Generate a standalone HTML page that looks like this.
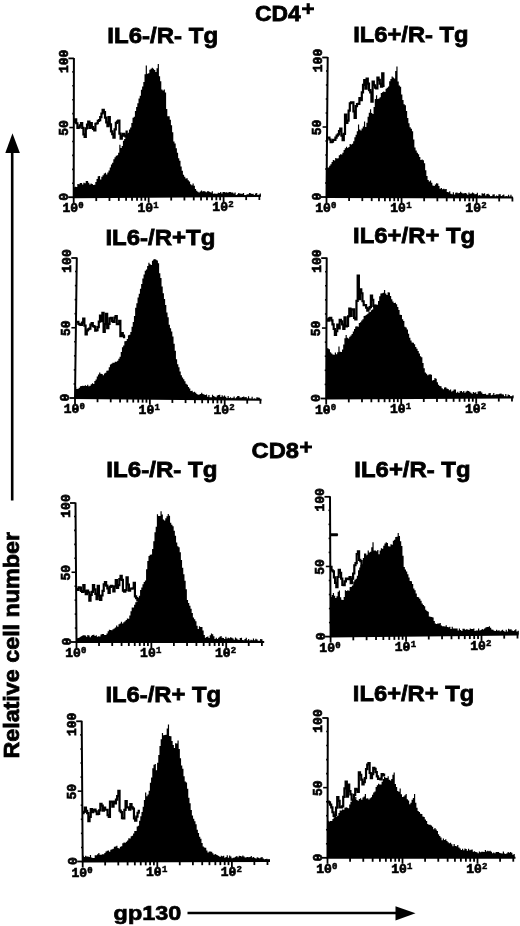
<!DOCTYPE html>
<html><head><meta charset="utf-8"><style>
html,body{margin:0;padding:0;background:#fff;}
svg{display:block;}
.t{font-family:"Liberation Sans",sans-serif;font-weight:bold;font-size:22.8px;fill:#000;stroke:#000;stroke-width:0.8px;}
.g{font-family:"Liberation Sans",sans-serif;font-weight:bold;font-size:21px;fill:#000;stroke:#000;stroke-width:0.7px;}
.p{font-family:"Liberation Sans",sans-serif;font-weight:bold;font-size:21px;fill:#000;}
.m{font-family:"Liberation Mono",monospace;font-weight:bold;font-size:13px;fill:#000;stroke:#000;stroke-width:0.7px;}
.s{font-family:"Liberation Mono",monospace;font-weight:bold;font-size:9px;fill:#000;stroke:#000;stroke-width:0.5px;}
</style></head><body>
<svg width="520" height="926" viewBox="0 0 520 926">
<defs><filter id="b" x="0" y="0" width="520" height="926" filterUnits="userSpaceOnUse"><feGaussianBlur stdDeviation="0.4"/></filter></defs>
<rect width="520" height="926" fill="#fff"/>
<g filter="url(#b)">
<path d="M73.71 187.31H74.91V186.71H76.11V186.91H77.31V184.09H78.51V184.19H79.71V183.03H80.91V182.95H82.11V184.58H83.31V182.84H84.51V183.2H85.71V180.98H86.91V180.88H88.11V182.65H89.31V184.58H90.51V183.39H91.71V183.93H92.91V185.06H94.11V184.72H95.31V182.07H96.51V178.93H97.71V176.2H98.91V176H100.11V179.42H101.31V176.8H102.51V175.19H103.71V173.55H104.91V172.7H106.11V174.48H107.31V172.44H108.51V170.38H109.71V167.56H110.91V164.42H112.11V162.63H113.31V159.24H114.51V157.22H115.71V155.65H116.91V155.18H118.11V152.85H119.31V144.7H120.51V147.92H121.71V145.91H122.91V140.69H124.11V139.1H125.31V136.43H126.51V133.42H127.71V132.72H128.91V129.59H130.11V127.47H131.31V123.11H132.51V117.87H133.71V116.63H134.91V110.88H136.11V106.92H137.31V103.34H138.51V98.42H139.71V95.72H140.91V89.66H142.11V86.6H143.31V82.02H144.51V74.25H145.71V65.5H146.91V73.81H148.11V73.31H149.31V69.8H150.51V68.8H151.71V67.68H152.91V68.75H154.11V69.95H155.31V72.08H156.51V68.13H157.71V63.9H158.91V76.17H160.11V81.21H161.31V89.54H162.51V90.55H163.71V89.47H164.91V92.42H166.11V109H167.31V116.3H168.51V116.14H169.71V119.64H170.91V125.22H172.11V132.21H173.31V141.51H174.51V143.4H175.71V148.24H176.91V152.73H178.11V158.22H179.31V160.87H180.51V166.55H181.71V170.74H182.91V174.74H184.11V176.79H185.31V178.41H186.51V178.3H187.71V180.3H188.91V181.62H190.11V184.29H191.31V185.36H192.51V183.52H193.71V185.67H194.91V189H196.11V190.73H197.31V191.85H198.51V192.47H199.71V191.6H200.91V190.57H202.11V191.42H203.31V191.06H204.51V191.4H205.71V192.28H206.91V191.34H208.11V191.27H209.31V191.97H210.51V192.55H211.71V191.17H212.91V193.67H214.11V193.46H215.31V193.84H216.51V193.75H217.71V192.74H218.91V192.89H220.11V192.09H221.31V193.58H222.51V191.97H223.71V191.99H224.91V192.38H226.11V192.25H227.31V192.79H228.51V192.11H229.71V192.08H230.91V192.62H232.11V192.6H233.31V193.45H234.51V192.62H235.71V195.06H236.91V194.36H238.11V193.08H239.31V193.39H240.51V193.68H241.71V193.75H242.91V193.1H244.11V195.16H245.31V195.59H246.51V194.14H247.71V194.21H248.91V193.12H250.11V193.19H251.31V193.89H252.51V193.69H253.71V195.3H254.91V193.45H256.11V193.09H257.31V195.71H258.51V194.55H259.71V193.5H260.91V196L73.71 197.2Z" fill="#000"/>
<path d="M73.81 121.82H75.01V119.36H76.21V123.25H77.41V127.91H78.61V127.31H79.81V125.3H81.01V123.09H82.21V127.91H83.41V134.38H84.61V137H85.81V128.41H87.01V124.69H88.21V121.6H89.41V127.83H90.61V123.2H91.81V127.03H93.01V128.89H94.21V130.51H95.41V123.77H96.61V123.23H97.81V120.96H99.01V120.18H100.21V117.04H101.41V113.5H102.61V109.77H103.81V112.15H105.01V117.68H106.21V122.41H107.41V126.26H108.61V117H109.81V124.37H111.01V131.33H112.21V134.06H113.41V137.53H114.61V129.32H115.81V122.8H117.01V121.7H118.21V120.48H119.41V133.63H120.61V138.62H121.81V135.67H123.01V133.79H124.21V135.7H125.41V136.45H126.61V131.53H127.81" fill="none" stroke="#000" stroke-width="2.2" stroke-linejoin="miter"/>
<path d="M73.9 57.9L73.7 197.2L260.8 196" fill="none" stroke="#000" stroke-width="2"/>
<path d="M68.4 58.4H73.9" stroke="#000" stroke-width="1.8"/>
<path d="M72.12 183.27H73.72" stroke="#000" stroke-width="1.6"/>
<path d="M72.14 169.34H73.74" stroke="#000" stroke-width="1.6"/>
<path d="M72.16 155.41H73.76" stroke="#000" stroke-width="1.6"/>
<path d="M72.18 141.48H73.78" stroke="#000" stroke-width="1.6"/>
<path d="M69.3 127.55H73.8" stroke="#000" stroke-width="1.6"/>
<path d="M72.22 113.62H73.82" stroke="#000" stroke-width="1.6"/>
<path d="M72.24 99.69H73.84" stroke="#000" stroke-width="1.6"/>
<path d="M72.26 85.76H73.86" stroke="#000" stroke-width="1.6"/>
<path d="M72.28 71.83H73.88" stroke="#000" stroke-width="1.6"/>
<path d="M68.2 197.2H73.7" stroke="#000" stroke-width="1.8"/>
<path d="M73.7 197.2V203.2" stroke="#000" stroke-width="1.8"/>
<path d="M96.26 197.06V201.06" stroke="#000" stroke-width="1.8"/>
<path d="M109.46 196.97V200.97" stroke="#000" stroke-width="1.8"/>
<path d="M118.82 196.91V200.91" stroke="#000" stroke-width="1.8"/>
<path d="M126.09 196.86V200.86" stroke="#000" stroke-width="1.8"/>
<path d="M132.02 196.83V200.83" stroke="#000" stroke-width="1.8"/>
<path d="M137.04 196.79V200.79" stroke="#000" stroke-width="1.8"/>
<path d="M141.39 196.77V200.77" stroke="#000" stroke-width="1.8"/>
<path d="M145.22 196.74V200.74" stroke="#000" stroke-width="1.8"/>
<path d="M148.65 196.72V202.72" stroke="#000" stroke-width="1.8"/>
<path d="M171.21 196.57V200.57" stroke="#000" stroke-width="1.8"/>
<path d="M184.41 196.49V200.49" stroke="#000" stroke-width="1.8"/>
<path d="M193.77 196.43V200.43" stroke="#000" stroke-width="1.8"/>
<path d="M201.04 196.38V200.38" stroke="#000" stroke-width="1.8"/>
<path d="M206.97 196.35V200.35" stroke="#000" stroke-width="1.8"/>
<path d="M211.99 196.31V200.31" stroke="#000" stroke-width="1.8"/>
<path d="M216.34 196.29V200.29" stroke="#000" stroke-width="1.8"/>
<path d="M220.17 196.26V200.26" stroke="#000" stroke-width="1.8"/>
<path d="M223.6 196.24V202.24" stroke="#000" stroke-width="1.8"/>
<path d="M246.16 196.09V200.09" stroke="#000" stroke-width="1.8"/>
<path d="M259.36 196.01V200.01" stroke="#000" stroke-width="1.8"/>
<text transform="translate(67.9 61.4) rotate(-90)" x="0" y="0" text-anchor="middle" class="m">100</text>
<text transform="translate(67.8 128.05) rotate(-90)" x="0" y="0" text-anchor="middle" class="m">50</text>
<text transform="translate(67.7 196.9) rotate(-90)" x="0" y="0" text-anchor="middle" class="m">0</text>
<text x="70.25" y="212.2" text-anchor="middle" class="m">10</text>
<text x="78.3" y="208.2" class="s">0</text>
<text x="145.2" y="211.72" text-anchor="middle" class="m">10</text>
<text x="153.25" y="207.72" class="s">1</text>
<text x="220.15" y="211.24" text-anchor="middle" class="m">10</text>
<text x="228.2" y="207.24" class="s">2</text>
<path d="M326.76 167.45H327.96V167.62H329.16V165.84H330.36V164.13H331.56V162.08H332.76V160.04H333.96V160.55H335.16V158.07H336.36V158.54H337.56V158.16H338.76V155.35H339.96V154.18H341.16V154.58H342.36V152.77H343.56V150.02H344.76V148.33H345.96V146.78H347.16V148.08H348.36V147H349.56V143.9H350.76V144.56H351.96V143.79H353.16V141.26H354.36V137.22H355.56V134.84H356.76V131.35H357.96V124.6H359.16V129.46H360.36V130.5H361.56V128.6H362.76V126.61H363.96V121.5H365.16V127.11H366.36V122.63H367.56V116.87H368.76V112.82H369.96V109.15H371.16V113.05H372.36V113.88H373.56V107.05H374.76V99.12H375.96V95.28H377.16V99.12H378.36V98.47H379.56V97.22H380.76V93.11H381.96V92.28H383.16V91.53H384.36V92.11H385.56V88.87H386.76V87.83H387.96V86.61H389.16V81.31H390.36V78.91H391.56V76.39H392.76V77.62H393.96V78.62H395.16V70.94H396.36V66.5H397.56V81.46H398.76V85.45H399.96V86.65H401.16V94.43H402.36V99.92H403.56V104.34H404.76V105.2H405.96V111.04H407.16V117.99H408.36V123.33H409.56V127.15H410.76V128.74H411.96V131.29H413.16V139.61H414.36V147.48H415.56V150.38H416.76V152.7H417.96V154.14H419.16V156.95H420.36V160.04H421.56V159.4H422.76V160.22H423.96V163.32H425.16V170.14H426.36V175.94H427.56V180.12H428.76V181.47H429.96V180.4H431.16V182.83H432.36V185.48H433.56V185.97H434.76V184.53H435.96V183.28H437.16V183.4H438.36V186.07H439.56V188.69H440.76V187.95H441.96V189.35H443.16V188.68H444.36V189.22H445.56V189.09H446.76V191.93H447.96V192.24H449.16V191.27H450.36V193.73H451.56V194.18H452.76V192.29H453.96V194.56H455.16V192.83H456.36V192.46H457.56V193.25H458.76V193.1H459.96V191.64H461.16V192.81H462.36V193.45H463.56V193.17H464.76V192.98H465.96V193.53H467.16V194.77H468.36V192.57H469.56V193.84H470.76V193.49H471.96V192.39H473.16V193.35H474.36V194.25H475.56V194.02H476.76V192.85H477.96V195.52H479.16V195.05H480.36V195.65H481.56V193.3H482.76V193.84H483.96V193.29H485.16V195.44H486.36V194.1H487.56V193.79H488.76V194.7H489.96V196.15H491.16V195.94H492.36V194.43H493.56V194.18H494.76V196.39H495.96V195.46H497.16V195.88H498.36V194.22H499.56V194.19H500.76V196.01H501.96V195.32H503.16V194.39H504.36V196.87H505.56V196.07H506.76V196.59H507.96V194.63H509.16V196.85H510.36V194.69H511.56V196.97H512.76V197.5L326.76 197Z" fill="#000"/>
<path d="M327.01 137.76H328.21V137.62H329.41V139.5H330.61V142.23H331.81V141.66H333.01V139.83H334.21V139.81H335.41V137.53H336.61V135.65H337.81V134.31H339.01V131.16H340.21V128.71H341.41V135.57H342.61V140.08H343.81V133.8H345.01V114.6H346.21V122.83H347.41V120.55H348.61V110.57H349.81V103.23H351.01V102.45H352.21V102.24H353.41V111.3H354.61V117.9H355.81V106.18H357.01V104.01H358.21V103.95H359.41V98.01H360.61V100.13H361.81V92.34H363.01V84.97H364.21V80H365.41V88.66H366.61V78.5H367.81V83.57H369.01V90.03H370.21V92.31H371.41V101.66H372.61V81.5H373.81V85.26H375.01V87.72H376.21V88.42H377.41V77.61H378.61V79.97H379.81V83.74H381.01V86.75H382.21V73.39H383.41V85.87H384.61" fill="none" stroke="#000" stroke-width="2.2" stroke-linejoin="miter"/>
<path d="M327.7 57L326.5 197L513 197.5" fill="none" stroke="#000" stroke-width="2"/>
<path d="M322.2 57.5H327.7" stroke="#000" stroke-width="1.8"/>
<path d="M325.02 183H326.62" stroke="#000" stroke-width="1.6"/>
<path d="M325.14 169H326.74" stroke="#000" stroke-width="1.6"/>
<path d="M325.26 155H326.86" stroke="#000" stroke-width="1.6"/>
<path d="M325.38 141H326.98" stroke="#000" stroke-width="1.6"/>
<path d="M322.6 127H327.1" stroke="#000" stroke-width="1.6"/>
<path d="M325.62 113H327.22" stroke="#000" stroke-width="1.6"/>
<path d="M325.74 99H327.34" stroke="#000" stroke-width="1.6"/>
<path d="M325.86 85H327.46" stroke="#000" stroke-width="1.6"/>
<path d="M325.98 71H327.58" stroke="#000" stroke-width="1.6"/>
<path d="M321 197H326.5" stroke="#000" stroke-width="1.8"/>
<path d="M326.5 197V203" stroke="#000" stroke-width="1.8"/>
<path d="M349.09 197.06V201.06" stroke="#000" stroke-width="1.8"/>
<path d="M362.31 197.1V201.1" stroke="#000" stroke-width="1.8"/>
<path d="M371.68 197.12V201.12" stroke="#000" stroke-width="1.8"/>
<path d="M378.96 197.14V201.14" stroke="#000" stroke-width="1.8"/>
<path d="M384.9 197.16V201.16" stroke="#000" stroke-width="1.8"/>
<path d="M389.92 197.17V201.17" stroke="#000" stroke-width="1.8"/>
<path d="M394.28 197.18V201.18" stroke="#000" stroke-width="1.8"/>
<path d="M398.12 197.19V201.19" stroke="#000" stroke-width="1.8"/>
<path d="M401.55 197.2V203.2" stroke="#000" stroke-width="1.8"/>
<path d="M424.14 197.26V201.26" stroke="#000" stroke-width="1.8"/>
<path d="M437.36 197.3V201.3" stroke="#000" stroke-width="1.8"/>
<path d="M446.73 197.32V201.32" stroke="#000" stroke-width="1.8"/>
<path d="M454.01 197.34V201.34" stroke="#000" stroke-width="1.8"/>
<path d="M459.95 197.36V201.36" stroke="#000" stroke-width="1.8"/>
<path d="M464.97 197.37V201.37" stroke="#000" stroke-width="1.8"/>
<path d="M469.33 197.38V201.38" stroke="#000" stroke-width="1.8"/>
<path d="M473.17 197.39V201.39" stroke="#000" stroke-width="1.8"/>
<path d="M476.6 197.4V203.4" stroke="#000" stroke-width="1.8"/>
<path d="M499.19 197.46V201.46" stroke="#000" stroke-width="1.8"/>
<path d="M512.41 197.5V201.5" stroke="#000" stroke-width="1.8"/>
<text transform="translate(321.7 60.5) rotate(-90)" x="0" y="0" text-anchor="middle" class="m">100</text>
<text transform="translate(321.1 127.5) rotate(-90)" x="0" y="0" text-anchor="middle" class="m">50</text>
<text transform="translate(320.5 196.7) rotate(-90)" x="0" y="0" text-anchor="middle" class="m">0</text>
<text x="323.05" y="212" text-anchor="middle" class="m">10</text>
<text x="331.1" y="208" class="s">0</text>
<text x="398.1" y="212.2" text-anchor="middle" class="m">10</text>
<text x="406.15" y="208.2" class="s">1</text>
<text x="473.15" y="212.4" text-anchor="middle" class="m">10</text>
<text x="481.2" y="208.4" class="s">2</text>
<path d="M75.13 386.84H76.33V388.95H77.53V388.67H78.73V387.74H79.93V386.3H81.13V385.88H82.33V385.72H83.53V386.09H84.73V385.24H85.93V385.98H87.13V384.87H88.33V386.23H89.53V385.84H90.73V384.33H91.93V383.16H93.13V383.98H94.33V380.89H95.53V379.41H96.73V376.5H97.93V374.38H99.13V372.4H100.33V373.87H101.53V373.98H102.73V375.24H103.93V373.54H105.13V372.65H106.33V370.72H107.53V370.39H108.73V367.34H109.93V364.47H111.13V363.68H112.33V362.69H113.53V362.86H114.73V361.87H115.93V361.7H117.13V360.65H118.33V358.65H119.53V356.71H120.73V351.88H121.93V347.35H123.13V345.4H124.33V341.23H125.53V341.12H126.73V338.93H127.93V335.21H129.13V334.72H130.33V332.07H131.53V326.64H132.73V322.1H133.93V315.91H135.13V307.69H136.33V303.13H137.53V297.6H138.73V293.73H139.93V288.84H141.13V284.1H142.33V278.6H143.53V274.62H144.73V270.78H145.93V269.61H147.13V265.94H148.33V262.82H149.53V264.3H150.73V264.92H151.93V260.84H153.13V259.45H154.33V259.09H155.53V259.74H156.73V260.52H157.93V263.3H159.13V273.24H160.33V277.94H161.53V286.56H162.73V293.19H163.93V299.12H165.13V304.99H166.33V312.4H167.53V317.31H168.73V324.79H169.93V328.31H171.13V331.57H172.33V336.45H173.53V343.8H174.73V350.72H175.93V359.19H177.13V364.28H178.33V367.24H179.53V371.44H180.73V375.23H181.93V377.49H183.13V379.3H184.33V381.34H185.53V383.86H186.73V384.67H187.93V387.04H189.13V388.54H190.33V391.02H191.53V390.69H192.73V392.31H193.93V391.65H195.13V392.67H196.33V394.01H197.53V394.75H198.73V394.41H199.93V393.98H201.13V392.78H202.33V394.01H203.53V394.47H204.73V395.07H205.93V394.49H207.13V396.8H208.33V394.99H209.53V397.31H210.73V397.33H211.93V394.81H213.13V395.94H214.33V396.84H215.53V397.14H216.73V395.58H217.93V394.97H219.13V394.69H220.33V396.97H221.53V395.14H222.73V396.42H223.93V395.42H225.13V396.72H226.33V398.16H227.53V396H228.73V397.97H229.93V397.14H231.13V398.24H232.33V397.78H233.53V396.5H234.73V398.41H235.93V397.31H237.13V396.06H238.33V396.05H239.53V397.46H240.73V397.38H241.93V396.99H243.13V396.57H244.33V397.17H245.53V397.12H246.73V398.62H247.93V396.3H249.13V398.43H250.33V398.71H251.53V396.72H252.73V399.01H253.93V398.44H255.13V399H256.33V397.32H257.53V397.58H258.73V397.67H259.93V399.39H261.13V399.8L75.13 398Z" fill="#000"/>
<path d="M75.98 322.06H77.18V321.97H78.38V323.8H79.58V324.54H80.78V324.91H81.98V322.58H83.18V318.5H84.38V325.53H85.58V334.46H86.78V330.48H87.98V329.26H89.18V328.55H90.38V324.63H91.58V323.18H92.78V326.15H93.98V326.55H95.18V330.54H96.38V330.2H97.58V327.05H98.78V321.61H99.98V315.5H101.18V321.18H102.38V312.88H103.58V332.02H104.78V324.06H105.98V313.9H107.18V328.18H108.38V323.84H109.58V318.44H110.78V317.8H111.98V321.18H113.18V321.78H114.38V317.62H115.58V316.2H116.78V324.15H117.98V324.13H119.18V320.8H120.38V336.12H121.58V333.21H122.78V335.56H123.98V337.22H125.18" fill="none" stroke="#000" stroke-width="2.2" stroke-linejoin="miter"/>
<path d="M76.8 257.5L75 398L261.5 399.8" fill="none" stroke="#000" stroke-width="2"/>
<path d="M71.3 258H76.8" stroke="#000" stroke-width="1.8"/>
<path d="M73.58 383.95H75.18" stroke="#000" stroke-width="1.6"/>
<path d="M73.76 369.9H75.36" stroke="#000" stroke-width="1.6"/>
<path d="M73.94 355.85H75.54" stroke="#000" stroke-width="1.6"/>
<path d="M74.12 341.8H75.72" stroke="#000" stroke-width="1.6"/>
<path d="M71.4 327.75H75.9" stroke="#000" stroke-width="1.6"/>
<path d="M74.48 313.7H76.08" stroke="#000" stroke-width="1.6"/>
<path d="M74.66 299.65H76.26" stroke="#000" stroke-width="1.6"/>
<path d="M74.84 285.6H76.44" stroke="#000" stroke-width="1.6"/>
<path d="M75.02 271.55H76.62" stroke="#000" stroke-width="1.6"/>
<path d="M69.5 398H75" stroke="#000" stroke-width="1.8"/>
<path d="M75 398V404" stroke="#000" stroke-width="1.8"/>
<path d="M97.53 398.22V402.22" stroke="#000" stroke-width="1.8"/>
<path d="M110.71 398.34V402.34" stroke="#000" stroke-width="1.8"/>
<path d="M120.06 398.43V402.43" stroke="#000" stroke-width="1.8"/>
<path d="M127.32 398.5V402.5" stroke="#000" stroke-width="1.8"/>
<path d="M133.24 398.56V402.56" stroke="#000" stroke-width="1.8"/>
<path d="M138.26 398.61V402.61" stroke="#000" stroke-width="1.8"/>
<path d="M142.6 398.65V402.65" stroke="#000" stroke-width="1.8"/>
<path d="M146.43 398.69V402.69" stroke="#000" stroke-width="1.8"/>
<path d="M149.85 398.72V404.72" stroke="#000" stroke-width="1.8"/>
<path d="M172.38 398.94V402.94" stroke="#000" stroke-width="1.8"/>
<path d="M185.56 399.07V403.07" stroke="#000" stroke-width="1.8"/>
<path d="M194.91 399.16V403.16" stroke="#000" stroke-width="1.8"/>
<path d="M202.17 399.23V403.23" stroke="#000" stroke-width="1.8"/>
<path d="M208.09 399.28V403.28" stroke="#000" stroke-width="1.8"/>
<path d="M213.11 399.33V403.33" stroke="#000" stroke-width="1.8"/>
<path d="M217.45 399.37V403.37" stroke="#000" stroke-width="1.8"/>
<path d="M221.28 399.41V403.41" stroke="#000" stroke-width="1.8"/>
<path d="M224.7 399.44V405.44" stroke="#000" stroke-width="1.8"/>
<path d="M247.23 399.66V403.66" stroke="#000" stroke-width="1.8"/>
<path d="M260.41 399.79V403.79" stroke="#000" stroke-width="1.8"/>
<text transform="translate(70.8 261) rotate(-90)" x="0" y="0" text-anchor="middle" class="m">100</text>
<text transform="translate(69.9 328.25) rotate(-90)" x="0" y="0" text-anchor="middle" class="m">50</text>
<text transform="translate(69 397.7) rotate(-90)" x="0" y="0" text-anchor="middle" class="m">0</text>
<text x="71.55" y="413" text-anchor="middle" class="m">10</text>
<text x="79.6" y="409" class="s">0</text>
<text x="146.4" y="413.72" text-anchor="middle" class="m">10</text>
<text x="154.45" y="409.72" class="s">1</text>
<text x="221.25" y="414.44" text-anchor="middle" class="m">10</text>
<text x="229.3" y="410.44" class="s">2</text>
<path d="M326.38 348.07H327.58V348.42H328.78V349.32H329.98V352.28H331.18V353.49H332.38V354.48H333.58V354.78H334.78V352.4H335.98V354.25H337.18V352.36H338.38V346.49H339.58V351.72H340.78V352.03H341.98V349.58H343.18V344.49H344.38V338.18H345.58V335H346.78V337.74H347.98V338.55H349.18V336.72H350.38V335.42H351.58V333.98H352.78V331.48H353.98V328.92H355.18V326.54H356.38V326.21H357.58V326.87H358.78V323.05H359.98V322.19H361.18V320.45H362.38V319.36H363.58V315.88H364.78V315.39H365.98V314.81H367.18V313.63H368.38V312.15H369.58V311.95H370.78V310.16H371.98V309.45H373.18V306.09H374.38V304.5H375.58V305.04H376.78V304.78H377.98V301.04H379.18V296.37H380.38V293.52H381.58V293.31H382.78V292.82H383.98V290.1H385.18V293.53H386.38V294.98H387.58V292.17H388.78V292.57H389.98V295.88H391.18V299.34H392.38V301.4H393.58V303.07H394.78V302.87H395.98V304.36H397.18V307.09H398.38V310.12H399.58V314.82H400.78V315.07H401.98V319.16H403.18V321.08H404.38V326.69H405.58V327.58H406.78V329.59H407.98V333.7H409.18V337.73H410.38V340.57H411.58V342.6H412.78V342.73H413.98V344.18H415.18V347.04H416.38V348.83H417.58V350.93H418.78V353.5H419.98V356.17H421.18V357.18H422.38V362.95H423.58V368.28H424.78V372.46H425.98V373.87H427.18V375.23H428.38V374.41H429.58V374.15H430.78V374.78H431.98V380.4H433.18V380.06H434.38V378.12H435.58V378.82H436.78V382.18H437.98V384.67H439.18V385.94H440.38V386.34H441.58V388.29H442.78V389.28H443.98V387.59H445.18V387.34H446.38V388.5H447.58V389.05H448.78V390.33H449.98V389.56H451.18V391.44H452.38V390.68H453.58V389.43H454.78V389.45H455.98V392.79H457.18V391.82H458.38V393.04H459.58V391.18H460.78V390.95H461.98V392.33H463.18V391.03H464.38V392.87H465.58V391.59H466.78V390.72H467.98V390.9H469.18V391.75H470.38V392.76H471.58V393.87H472.78V391.94H473.98V392.87H475.18V392.16H476.38V394.09H477.58V391.55H478.78V391.18H479.98V391.36H481.18V392.44H482.38V394.01H483.58V394.12H484.78V393.85H485.98V394.74H487.18V394.71H488.38V393.18H489.58V392.93H490.78V395.18H491.98V394.8H493.18V392.96H494.38V394.88H495.58V394.19H496.78V394.25H497.98V394.2H499.18V393.81H500.38V393.42H501.58V394.26H502.78V394.53H503.98V396.29H505.18V394.03H506.38V396.45H507.58V394.4H508.78V394.89H509.98V396.26H511.18V396.33H512.38V395.3H513.58V397.5L326.38 398.5Z" fill="#000"/>
<path d="M326.47 319.26H327.67V320.55H328.87V318.4H330.07V317.8H331.27V320.44H332.47V324.41H333.67V329.02H334.87V334.8H336.07V331.23H337.27V324.7H338.47V328.47H339.67V319.74H340.87V321.26H342.07V324.49H343.27V328.97H344.47V317.42H345.67V326.43H346.87V325.93H348.07V316.36H349.27V308.65H350.47V315.89H351.67V309.3H352.87V309.45H354.07V317.81H355.27V319.51H356.47V300.85H357.67V275.49H358.87V299.11H360.07V289.3H361.27V293.23H362.47V301.27H363.67V305.13H364.87V305.17H366.07V307.76H367.27V310.7H368.47V308.74H369.67V307.07H370.87V295.5H372.07V299.94H373.27V305.82H374.47V306.95H375.67V305.48H376.87" fill="none" stroke="#000" stroke-width="2.2" stroke-linejoin="miter"/>
<path d="M326.7 257.6L326.2 398.5L513.5 397.5" fill="none" stroke="#000" stroke-width="2"/>
<path d="M321.2 258.1H326.7" stroke="#000" stroke-width="1.8"/>
<path d="M324.65 384.41H326.25" stroke="#000" stroke-width="1.6"/>
<path d="M324.7 370.32H326.3" stroke="#000" stroke-width="1.6"/>
<path d="M324.75 356.23H326.35" stroke="#000" stroke-width="1.6"/>
<path d="M324.8 342.14H326.4" stroke="#000" stroke-width="1.6"/>
<path d="M321.95 328.05H326.45" stroke="#000" stroke-width="1.6"/>
<path d="M324.9 313.96H326.5" stroke="#000" stroke-width="1.6"/>
<path d="M324.95 299.87H326.55" stroke="#000" stroke-width="1.6"/>
<path d="M325 285.78H326.6" stroke="#000" stroke-width="1.6"/>
<path d="M325.05 271.69H326.65" stroke="#000" stroke-width="1.6"/>
<path d="M320.7 398.5H326.2" stroke="#000" stroke-width="1.8"/>
<path d="M326.2 398.5V404.5" stroke="#000" stroke-width="1.8"/>
<path d="M348.78 398.38V402.38" stroke="#000" stroke-width="1.8"/>
<path d="M361.98 398.31V402.31" stroke="#000" stroke-width="1.8"/>
<path d="M371.35 398.26V402.26" stroke="#000" stroke-width="1.8"/>
<path d="M378.62 398.22V402.22" stroke="#000" stroke-width="1.8"/>
<path d="M384.56 398.19V402.19" stroke="#000" stroke-width="1.8"/>
<path d="M389.58 398.16V402.16" stroke="#000" stroke-width="1.8"/>
<path d="M393.93 398.14V402.14" stroke="#000" stroke-width="1.8"/>
<path d="M397.77 398.12V402.12" stroke="#000" stroke-width="1.8"/>
<path d="M401.2 398.1V404.1" stroke="#000" stroke-width="1.8"/>
<path d="M423.78 397.98V401.98" stroke="#000" stroke-width="1.8"/>
<path d="M436.98 397.91V401.91" stroke="#000" stroke-width="1.8"/>
<path d="M446.35 397.86V401.86" stroke="#000" stroke-width="1.8"/>
<path d="M453.62 397.82V401.82" stroke="#000" stroke-width="1.8"/>
<path d="M459.56 397.79V401.79" stroke="#000" stroke-width="1.8"/>
<path d="M464.58 397.76V401.76" stroke="#000" stroke-width="1.8"/>
<path d="M468.93 397.74V401.74" stroke="#000" stroke-width="1.8"/>
<path d="M472.77 397.72V401.72" stroke="#000" stroke-width="1.8"/>
<path d="M476.2 397.7V403.7" stroke="#000" stroke-width="1.8"/>
<path d="M498.78 397.58V401.58" stroke="#000" stroke-width="1.8"/>
<path d="M511.98 397.51V401.51" stroke="#000" stroke-width="1.8"/>
<text transform="translate(320.7 261.1) rotate(-90)" x="0" y="0" text-anchor="middle" class="m">100</text>
<text transform="translate(320.45 328.55) rotate(-90)" x="0" y="0" text-anchor="middle" class="m">50</text>
<text transform="translate(320.2 398.2) rotate(-90)" x="0" y="0" text-anchor="middle" class="m">0</text>
<text x="322.75" y="413.5" text-anchor="middle" class="m">10</text>
<text x="330.8" y="409.5" class="s">0</text>
<text x="397.75" y="413.1" text-anchor="middle" class="m">10</text>
<text x="405.8" y="409.1" class="s">1</text>
<text x="472.75" y="412.7" text-anchor="middle" class="m">10</text>
<text x="480.8" y="408.7" class="s">2</text>
<path d="M76.47 638.25H77.67V637.98H78.87V637.6H80.07V636.84H81.27V636.1H82.47V635.32H83.67V635.29H84.87V635.41H86.07V636.74H87.27V634.98H88.47V635.52H89.67V637.28H90.87V635.71H92.07V635H93.27V634.7H94.47V635.95H95.67V635.13H96.87V636.78H98.07V636.33H99.27V636.47H100.47V634.44H101.67V633.94H102.87V633.97H104.07V634.91H105.27V634.88H106.47V633.52H107.67V631.32H108.87V629.85H110.07V630.04H111.27V630.19H112.47V629.33H113.67V628.4H114.87V627.45H116.07V625.5H117.27V626.73H118.47V624.3H119.67V623.44H120.87V621.82H122.07V623.62H123.27V622.29H124.47V621.23H125.67V620.02H126.87V618.56H128.07V618.84H129.27V615.59H130.47V611.27H131.67V607.55H132.87V607.6H134.07V604.63H135.27V602.24H136.47V601.6H137.67V597.94H138.87V595.67H140.07V590H141.27V587.4H142.47V584.34H143.67V581.92H144.87V580.51H146.07V569.27H147.27V561.02H148.47V556.11H149.67V554.69H150.87V554.61H152.07V548.94H153.27V541.14H154.47V532.27H155.67V526.75H156.87V514.3H158.07V515.89H159.27V516.11H160.47V511.2H161.67V514.55H162.87V519.56H164.07V520.47H165.27V518.35H166.47V516.32H167.67V514.08H168.87V515.72H170.07V522.86H171.27V524.66H172.47V526.3H173.67V530.63H174.87V535.72H176.07V542.38H177.27V546.2H178.47V547.3H179.67V552.33H180.87V560.01H182.07V567.83H183.27V574.27H184.47V580.68H185.67V589.27H186.87V599.94H188.07V602.97H189.27V605.75H190.47V608.79H191.67V612.92H192.87V617.52H194.07V619.16H195.27V621.14H196.47V625.87H197.67V628.94H198.87V626.31H200.07V627.09H201.27V626.92H202.47V630.43H203.67V634.95H204.87V637.72H206.07V637.02H207.27V636.55H208.47V638.04H209.67V635.36H210.87V633.57H212.07V634.3H213.27V636.31H214.47V638.93H215.67V637.8H216.87V638.98H218.07V637.64H219.27V636.65H220.47V636.08H221.67V637.66H222.87V638.06H224.07V638.98H225.27V636.84H226.47V638.49H227.67V637.87H228.87V638.3H230.07V637.34H231.27V637.78H232.47V638.49H233.67V639.68H234.87V637.44H236.07V638.56H237.27V639.49H238.47V639.99H239.67V637.89H240.87V637.75H242.07V640.11H243.27V640.27H244.47V638.96H245.67V637.82H246.87V640.33H248.07V638.89H249.27V640.41H250.47V639.68H251.67V640.32H252.87V638.53H254.07V640.35H255.27V638.84H256.47V639.42H257.67V640.72H258.87V640.74H260.07V639H261.27V639.17H262.47V642L76.47 642Z" fill="#000"/>
<path d="M76.13 589.18H77.33V589.79H78.53V587.4H79.73V587.69H80.93V591.02H82.13V591.78H83.33V585.1H84.53V591.17H85.73V594.17H86.93V590.5H88.13V592.33H89.33V600.62H90.53V595.02H91.73V591.93H92.93V585.1H94.13V589.29H95.33V593.97H96.53V599.15H97.73V585.8H98.93V595.75H100.13V599.83H101.33V595.49H102.53V590.82H103.73V584.46H104.93V582H106.13V585.53H107.33V588.43H108.53V593.02H109.73V586.94H110.93V585.77H112.13V586.25H113.33V591.5H114.53V586.3H115.73V580.2H116.93V587.9H118.13V585.03H119.33V579.08H120.53V575.8H121.73V579.81H122.93V590.64H124.13V591.62H125.33V590.13H126.53V577.4H127.73V584.5H128.93V590.74H130.13V588.51H131.33V588.69H132.53V588.25H133.73V582.8H134.93V596.28H136.13V598.2H137.33V600.22H138.53" fill="none" stroke="#000" stroke-width="2.2" stroke-linejoin="miter"/>
<path d="M75.5 502.5L76.5 642L264.2 642" fill="none" stroke="#000" stroke-width="2"/>
<path d="M70 503H75.5" stroke="#000" stroke-width="1.8"/>
<path d="M74.8 628.05H76.4" stroke="#000" stroke-width="1.6"/>
<path d="M74.7 614.1H76.3" stroke="#000" stroke-width="1.6"/>
<path d="M74.6 600.15H76.2" stroke="#000" stroke-width="1.6"/>
<path d="M74.5 586.2H76.1" stroke="#000" stroke-width="1.6"/>
<path d="M71.5 572.25H76" stroke="#000" stroke-width="1.6"/>
<path d="M74.3 558.3H75.9" stroke="#000" stroke-width="1.6"/>
<path d="M74.2 544.35H75.8" stroke="#000" stroke-width="1.6"/>
<path d="M74.1 530.4H75.7" stroke="#000" stroke-width="1.6"/>
<path d="M74 516.45H75.6" stroke="#000" stroke-width="1.6"/>
<path d="M71 642H76.5" stroke="#000" stroke-width="1.8"/>
<path d="M76.5 642V648" stroke="#000" stroke-width="1.8"/>
<path d="M99.03 642V646" stroke="#000" stroke-width="1.8"/>
<path d="M112.21 642V646" stroke="#000" stroke-width="1.8"/>
<path d="M121.56 642V646" stroke="#000" stroke-width="1.8"/>
<path d="M128.82 642V646" stroke="#000" stroke-width="1.8"/>
<path d="M134.74 642V646" stroke="#000" stroke-width="1.8"/>
<path d="M139.76 642V646" stroke="#000" stroke-width="1.8"/>
<path d="M144.1 642V646" stroke="#000" stroke-width="1.8"/>
<path d="M147.93 642V646" stroke="#000" stroke-width="1.8"/>
<path d="M151.35 642V648" stroke="#000" stroke-width="1.8"/>
<path d="M173.88 642V646" stroke="#000" stroke-width="1.8"/>
<path d="M187.06 642V646" stroke="#000" stroke-width="1.8"/>
<path d="M196.41 642V646" stroke="#000" stroke-width="1.8"/>
<path d="M203.67 642V646" stroke="#000" stroke-width="1.8"/>
<path d="M209.59 642V646" stroke="#000" stroke-width="1.8"/>
<path d="M214.61 642V646" stroke="#000" stroke-width="1.8"/>
<path d="M218.95 642V646" stroke="#000" stroke-width="1.8"/>
<path d="M222.78 642V646" stroke="#000" stroke-width="1.8"/>
<path d="M226.2 642V648" stroke="#000" stroke-width="1.8"/>
<path d="M248.73 642V646" stroke="#000" stroke-width="1.8"/>
<path d="M261.91 642V646" stroke="#000" stroke-width="1.8"/>
<text transform="translate(69.5 506) rotate(-90)" x="0" y="0" text-anchor="middle" class="m">100</text>
<text transform="translate(70 572.75) rotate(-90)" x="0" y="0" text-anchor="middle" class="m">50</text>
<text transform="translate(70.5 641.7) rotate(-90)" x="0" y="0" text-anchor="middle" class="m">0</text>
<text x="73.05" y="657" text-anchor="middle" class="m">10</text>
<text x="81.1" y="653" class="s">0</text>
<text x="147.9" y="657" text-anchor="middle" class="m">10</text>
<text x="155.95" y="653" class="s">1</text>
<text x="222.75" y="657" text-anchor="middle" class="m">10</text>
<text x="230.8" y="653" class="s">2</text>
<path d="M330.43 596.88H331.63V594.9H332.83V592.9H334.03V595.72H335.23V597.96H336.43V596.28H337.63V591.79H338.83V590.6H340.03V597.31H341.23V599.85H342.43V599.99H343.63V597.12H344.83V590.22H346.03V591.08H347.23V590.26H348.43V590.78H349.63V586.9H350.83V586.75H352.03V585.44H353.23V581.46H354.43V579.84H355.63V578.65H356.83V575.65H358.03V570.34H359.23V567.46H360.43V564.97H361.63V564.68H362.83V561.63H364.03V559.79H365.23V555.4H366.43V554.83H367.63V550.47H368.83V552.61H370.03V551.68H371.23V547.25H372.43V542.2H373.63V550.49H374.83V550.6H376.03V551.21H377.23V549.96H378.43V554.17H379.63V550.41H380.83V548.36H382.03V548.64H383.23V545.69H384.43V543.4H385.63V542.13H386.83V543.06H388.03V546.29H389.23V546.6H390.43V544.13H391.63V544.74H392.83V540.82H394.03V539.77H395.23V536.98H396.43V536.86H397.63V532.9H398.83V536.02H400.03V541.16H401.23V545.98H402.43V555.67H403.63V567.06H404.83V569.62H406.03V571.62H407.23V574.36H408.43V577.54H409.63V581.03H410.83V581.22H412.03V583.89H413.23V588.47H414.43V590.3H415.63V593.56H416.83V596.95H418.03V597.18H419.23V598.75H420.43V600.7H421.63V603.51H422.83V605.09H424.03V606.22H425.23V609.8H426.43V611.11H427.63V611.78H428.83V616.38H430.03V616.79H431.23V616.94H432.43V617.38H433.63V620.94H434.83V623.39H436.03V623.92H437.23V623.51H438.43V623.43H439.63V623.04H440.83V625.52H442.03V626.18H443.23V626.32H444.43V626.52H445.63V625.34H446.83V626.9H448.03V627.25H449.23V626.8H450.43V628.95H451.63V626.85H452.83V628.56H454.03V628.6H455.23V628.52H456.43V628.41H457.63V630.58H458.83V628.43H460.03V629.94H461.23V631.03H462.43V628.69H463.63V628.72H464.83V629.73H466.03V629.31H467.23V629.55H468.43V630.06H469.63V628.41H470.83V628.93H472.03V629.04H473.23V628.47H474.43V630.89H475.63V630.59H476.83V630.4H478.03V628.42H479.23V630.6H480.43V630.05H481.63V629H482.83V629.51H484.03V628.43H485.23V627.52H486.43V626.92H487.63V627H488.83V626.25H490.03V627.65H491.23V629.39H492.43V629.81H493.63V630.81H494.83V631.01H496.03V629.84H497.23V630.65H498.43V630.32H499.63V631.31H500.83V630.57H502.03V629.84H503.23V630.9H504.43V631.8H505.63V629.64H506.83V631.38H508.03V628.84H509.23V629.41H510.43V629.22H511.63V630.52H512.83V630.96H514.03V630.29H515.23V629.17H516.43V631.52H517.63V630.77H518.83V634.5L330.43 636.6Z" fill="#000"/>
<path d="M330.31 566.94H331.51V570.43H332.71V571.32H333.91V577.36H335.11V582.92H336.31V587.03H337.51V577.02H338.71V569.8H339.91V572.91H341.11V578.56H342.31V584.87H343.51V585.16H344.71V581.46H345.91V578.61H347.11V578.8H348.31V579.21H349.51V577.11H350.71V583.07H351.91V578.77H353.11V573.48H354.31V565.26H355.51V563.06H356.71V554.11H357.91V551.4H359.11V559.94H360.31V561.14H361.51V567.79H362.71V565.24H363.91V559.2H365.11V554.49H366.31" fill="none" stroke="#000" stroke-width="2.2" stroke-linejoin="miter"/>
<path d="M330 533.2H337.6Q338.8 534.6 337.6 536.2H330Z" fill="#000"/>
<path d="M330 496.3L330.6 636.6L518.5 634.5" fill="none" stroke="#000" stroke-width="2"/>
<path d="M324.5 496.8H330" stroke="#000" stroke-width="1.8"/>
<path d="M328.94 622.57H330.54" stroke="#000" stroke-width="1.6"/>
<path d="M328.88 608.54H330.48" stroke="#000" stroke-width="1.6"/>
<path d="M328.82 594.51H330.42" stroke="#000" stroke-width="1.6"/>
<path d="M328.76 580.48H330.36" stroke="#000" stroke-width="1.6"/>
<path d="M325.8 566.45H330.3" stroke="#000" stroke-width="1.6"/>
<path d="M328.64 552.42H330.24" stroke="#000" stroke-width="1.6"/>
<path d="M328.58 538.39H330.18" stroke="#000" stroke-width="1.6"/>
<path d="M328.52 524.36H330.12" stroke="#000" stroke-width="1.6"/>
<path d="M328.46 510.33H330.06" stroke="#000" stroke-width="1.6"/>
<path d="M325.1 636.6H330.6" stroke="#000" stroke-width="1.8"/>
<path d="M330.6 636.6V642.6" stroke="#000" stroke-width="1.8"/>
<path d="M353.31 636.35V640.35" stroke="#000" stroke-width="1.8"/>
<path d="M366.6 636.2V640.2" stroke="#000" stroke-width="1.8"/>
<path d="M376.03 636.09V640.09" stroke="#000" stroke-width="1.8"/>
<path d="M383.34 636.01V640.01" stroke="#000" stroke-width="1.8"/>
<path d="M389.31 635.94V639.94" stroke="#000" stroke-width="1.8"/>
<path d="M394.36 635.89V639.89" stroke="#000" stroke-width="1.8"/>
<path d="M398.74 635.84V639.84" stroke="#000" stroke-width="1.8"/>
<path d="M402.6 635.8V639.8" stroke="#000" stroke-width="1.8"/>
<path d="M406.05 635.76V641.76" stroke="#000" stroke-width="1.8"/>
<path d="M428.76 635.5V639.5" stroke="#000" stroke-width="1.8"/>
<path d="M442.05 635.35V639.35" stroke="#000" stroke-width="1.8"/>
<path d="M451.48 635.25V639.25" stroke="#000" stroke-width="1.8"/>
<path d="M458.79 635.17V639.17" stroke="#000" stroke-width="1.8"/>
<path d="M464.76 635.1V639.1" stroke="#000" stroke-width="1.8"/>
<path d="M469.81 635.04V639.04" stroke="#000" stroke-width="1.8"/>
<path d="M474.19 635V639" stroke="#000" stroke-width="1.8"/>
<path d="M478.05 634.95V638.95" stroke="#000" stroke-width="1.8"/>
<path d="M481.5 634.91V640.91" stroke="#000" stroke-width="1.8"/>
<path d="M504.21 634.66V638.66" stroke="#000" stroke-width="1.8"/>
<path d="M517.5 634.51V638.51" stroke="#000" stroke-width="1.8"/>
<text transform="translate(324 499.8) rotate(-90)" x="0" y="0" text-anchor="middle" class="m">100</text>
<text transform="translate(324.3 566.95) rotate(-90)" x="0" y="0" text-anchor="middle" class="m">50</text>
<text transform="translate(324.6 636.3) rotate(-90)" x="0" y="0" text-anchor="middle" class="m">0</text>
<text x="327.15" y="651.6" text-anchor="middle" class="m">10</text>
<text x="335.2" y="647.6" class="s">0</text>
<text x="402.6" y="650.76" text-anchor="middle" class="m">10</text>
<text x="410.65" y="646.76" class="s">1</text>
<text x="478.05" y="649.91" text-anchor="middle" class="m">10</text>
<text x="486.1" y="645.91" class="s">2</text>
<path d="M82.67 855.68H83.87V856.98H85.07V855.76H86.27V856.45H87.47V856.52H88.67V857.03H89.87V855.02H91.07V857.54H92.27V857.94H93.47V857.99H94.67V855.36H95.87V855.32H97.07V854.13H98.27V852.99H99.47V854.77H100.67V854.67H101.87V854.18H103.07V854.19H104.27V853.07H105.47V851.61H106.67V850.78H107.87V850.46H109.07V851.79H110.27V849.64H111.47V849.3H112.67V848.7H113.87V846.68H115.07V846.52H116.27V845.81H117.47V847.94H118.67V848.53H119.87V846.76H121.07V846.16H122.27V843.17H123.47V842.53H124.67V842.64H125.87V841.66H127.07V840.43H128.27V838.28H129.47V838.38H130.67V836.25H131.87V835.63H133.07V833.56H134.27V831.09H135.47V831.08H136.67V826.52H137.87V825.84H139.07V820.78H140.27V816.33H141.47V812.1H142.67V806.73H143.87V799.91H145.07V792.54H146.27V796.19H147.47V794.38H148.67V790.73H149.87V782.86H151.07V777.57H152.27V768.27H153.47V764.86H154.67V763.92H155.87V770.13H157.07V762.76H158.27V754.9H159.47V745.9H160.67V739.18H161.87V733.1H163.07V735.17H164.27V735.01H165.47V734.67H166.67V728.39H167.87V724.6H169.07V736.01H170.27V736.37H171.47V741.04H172.67V745.01H173.87V748.03H175.07V743.33H176.27V743.59H177.47V740.59H178.67V749.09H179.87V758.34H181.07V765.6H182.27V768.66H183.47V776.34H184.67V781.55H185.87V782.55H187.07V788.85H188.27V797.68H189.47V803.26H190.67V809.95H191.87V815.47H193.07V818.81H194.27V821.21H195.47V824.26H196.67V829.82H197.87V832.99H199.07V836.85H200.27V838.69H201.47V843.1H202.67V846.4H203.87V847.47H205.07V847.82H206.27V850.38H207.47V852.51H208.67V851.48H209.87V851.44H211.07V851.74H212.27V853.24H213.47V854.83H214.67V854.1H215.87V854.72H217.07V855.37H218.27V855.98H219.47V856.92H220.67V855.83H221.87V856.16H223.07V855.64H224.27V857.7H225.47V856.88H226.67V855.18H227.87V857.73H229.07V855.46H230.27V856.39H231.47V858.21H232.67V857.72H233.87V857.53H235.07V856.68H236.27V856H237.47V857.22H238.67V855.72H239.87V855.99H241.07V856.48H242.27V855.48H243.47V856.48H244.67V857.57H245.87V857.34H247.07V856.88H248.27V857.32H249.47V856.92H250.67V856.09H251.87V857.45H253.07V856.97H254.27V857.98H255.47V858.52H256.67V857.25H257.87V857.74H259.07V858.34H260.27V857.53H261.47V857.09H262.67V858.58H263.87V859.13H265.07V858.94H266.27V858.84H267.47V859.37H268.67V859H269.87V861L82.67 861.5Z" fill="#000"/>
<path d="M82.35 813.04H83.55V811.92H84.75V807.7H85.95V810.97H87.15V813.11H88.35V821.09H89.55V816.89H90.75V809.2H91.95V812.12H93.15V810.17H94.35V809.66H95.55V811.28H96.75V814.07H97.95V813.89H99.15V810.32H100.35V803.8H101.55V805.65H102.75V810.67H103.95V807.7H105.15V809.74H106.35V809.73H107.55V815.18H108.75V816.79H109.95V801.5H111.15V801.77H112.35V806.57H113.55V801.5H114.75V803.4H115.95V799.57H117.15V796.17H118.35V790.8H119.55V810.64H120.75V812.05H121.95V818.08H123.15V818.37H124.35V809.89H125.55V801.18H126.75V807.5H127.95V807.3H129.15V809.63H130.35V804.2H131.55V807.41H132.75V808.67H133.95V818.49H135.15V820.65H136.35V816.69H137.55V812.75H138.75V810.8H139.95" fill="none" stroke="#000" stroke-width="2.2" stroke-linejoin="miter"/>
<path d="M81.7 720.8L82.7 861.5L270 861" fill="none" stroke="#000" stroke-width="2"/>
<path d="M76.2 721.3H81.7" stroke="#000" stroke-width="1.8"/>
<path d="M81 847.43H82.6" stroke="#000" stroke-width="1.6"/>
<path d="M80.9 833.36H82.5" stroke="#000" stroke-width="1.6"/>
<path d="M80.8 819.29H82.4" stroke="#000" stroke-width="1.6"/>
<path d="M80.7 805.22H82.3" stroke="#000" stroke-width="1.6"/>
<path d="M77.7 791.15H82.2" stroke="#000" stroke-width="1.6"/>
<path d="M80.5 777.08H82.1" stroke="#000" stroke-width="1.6"/>
<path d="M80.4 763.01H82" stroke="#000" stroke-width="1.6"/>
<path d="M80.3 748.94H81.9" stroke="#000" stroke-width="1.6"/>
<path d="M80.2 734.87H81.8" stroke="#000" stroke-width="1.6"/>
<path d="M77.2 861.5H82.7" stroke="#000" stroke-width="1.8"/>
<path d="M82.7 861.5V867.5" stroke="#000" stroke-width="1.8"/>
<path d="M105.16 861.44V865.44" stroke="#000" stroke-width="1.8"/>
<path d="M118.29 861.4V865.4" stroke="#000" stroke-width="1.8"/>
<path d="M127.61 861.38V865.38" stroke="#000" stroke-width="1.8"/>
<path d="M134.84 861.36V865.36" stroke="#000" stroke-width="1.8"/>
<path d="M140.75 861.35V865.35" stroke="#000" stroke-width="1.8"/>
<path d="M145.74 861.33V865.33" stroke="#000" stroke-width="1.8"/>
<path d="M150.07 861.32V865.32" stroke="#000" stroke-width="1.8"/>
<path d="M153.89 861.31V865.31" stroke="#000" stroke-width="1.8"/>
<path d="M157.3 861.3V867.3" stroke="#000" stroke-width="1.8"/>
<path d="M179.76 861.24V865.24" stroke="#000" stroke-width="1.8"/>
<path d="M192.89 861.21V865.21" stroke="#000" stroke-width="1.8"/>
<path d="M202.21 861.18V865.18" stroke="#000" stroke-width="1.8"/>
<path d="M209.44 861.16V865.16" stroke="#000" stroke-width="1.8"/>
<path d="M215.35 861.15V865.15" stroke="#000" stroke-width="1.8"/>
<path d="M220.34 861.13V865.13" stroke="#000" stroke-width="1.8"/>
<path d="M224.67 861.12V865.12" stroke="#000" stroke-width="1.8"/>
<path d="M228.49 861.11V865.11" stroke="#000" stroke-width="1.8"/>
<path d="M231.9 861.1V867.1" stroke="#000" stroke-width="1.8"/>
<path d="M254.36 861.04V865.04" stroke="#000" stroke-width="1.8"/>
<path d="M267.49 861.01V865.01" stroke="#000" stroke-width="1.8"/>
<text transform="translate(75.7 724.3) rotate(-90)" x="0" y="0" text-anchor="middle" class="m">100</text>
<text transform="translate(76.2 791.65) rotate(-90)" x="0" y="0" text-anchor="middle" class="m">50</text>
<text transform="translate(76.7 861.2) rotate(-90)" x="0" y="0" text-anchor="middle" class="m">0</text>
<text x="79.25" y="876.5" text-anchor="middle" class="m">10</text>
<text x="87.3" y="872.5" class="s">0</text>
<text x="153.85" y="876.3" text-anchor="middle" class="m">10</text>
<text x="161.9" y="872.3" class="s">1</text>
<text x="228.45" y="876.1" text-anchor="middle" class="m">10</text>
<text x="236.5" y="872.1" class="s">2</text>
<path d="M327.58 820.64H328.78V821.61H329.98V821.07H331.18V821.06H332.38V818.94H333.58V817.15H334.78V815.85H335.98V816.52H337.18V815.82H338.38V813.05H339.58V810.57H340.78V810.58H341.98V809.57H343.18V809.85H344.38V807.81H345.58V807.22H346.78V807.82H347.98V808.16H349.18V804.54H350.38V801.83H351.58V801.72H352.78V804.02H353.98V799.08H355.18V797H356.38V799.88H357.58V800.72H358.78V798.91H359.98V798.26H361.18V799.8H362.38V797.56H363.58V796.45H364.78V793.9H365.98V798.43H367.18V798.32H368.38V799.46H369.58V798.36H370.78V797.23H371.98V794.79H373.18V792.45H374.38V791.53H375.58V787.11H376.78V785.23H377.98V783.78H379.18V784.5H380.38V784.4H381.58V781.8H382.78V778.98H383.98V777.06H385.18V777.87H386.38V777.98H387.58V776.37H388.78V779.83H389.98V780.4H391.18V778.96H392.38V774.72H393.58V772.4H394.78V784.06H395.98V786.95H397.18V790.95H398.38V791.67H399.58V788.5H400.78V794.18H401.98V797.07H403.18V796.41H404.38V795.14H405.58V793.9H406.78V799.16H407.98V800.58H409.18V804.3H410.38V802.79H411.58V799.64H412.78V798.07H413.98V793.9H415.18V802.69H416.38V807.64H417.58V811.08H418.78V811.98H419.98V813.87H421.18V814.1H422.38V816.61H423.58V816.94H424.78V819.55H425.98V821H427.18V823.99H428.38V824.69H429.58V824.74H430.78V825.44H431.98V826.78H433.18V829.28H434.38V828.06H435.58V829.56H436.78V831.06H437.98V834.25H439.18V835.89H440.38V837.62H441.58V840.14H442.78V838.39H443.98V839.89H445.18V839.19H446.38V841.07H447.58V842.3H448.78V843.21H449.98V842.83H451.18V844.15H452.38V846.22H453.58V844.05H454.78V845.94H455.98V846.3H457.18V845.06H458.38V847.47H459.58V848.47H460.78V850H461.98V848.7H463.18V850.22H464.38V848.59H465.58V848.96H466.78V850.74H467.98V848.72H469.18V850.33H470.38V849.76H471.58V849.44H472.78V851.83H473.98V851.27H475.18V851.88H476.38V852.34H477.58V853.16H478.78V851.59H479.98V852.22H481.18V851.74H482.38V851.65H483.58V851.96H484.78V850H485.98V851.61H487.18V850.67H488.38V851.19H489.58V850.78H490.78V851.67H491.98V853.23H493.18V852.57H494.38V853.19H495.58V852.06H496.78V852.08H497.98V852.09H499.18V852.95H500.38V853.15H501.58V853.62H502.78V851.6H503.98V853.57H505.18V854.09H506.38V853.24H507.58V851.95H508.78V852.76H509.98V852.03H511.18V852.65H512.38V854.79H513.58V854.02H514.78V857.7L327.58 857.8Z" fill="#000"/>
<path d="M327.62 801.62H328.82V802.3H330.02V804.69H331.22V807.28H332.42V812.27H333.62V816H334.82V814.83H336.02V807.6H337.22V797H338.42V800.81H339.62V807.49H340.82V807.36H342.02V806.34H343.22V796.93H344.42V788.35H345.62V781.6H346.82V796.77H348.02V784.7H349.22V791.16H350.42V794.42H351.62V799.59H352.82V804.37H354.02V794.83H355.22V788.82H356.42V789.56H357.62V791.86H358.82V772.4H360.02V774.87H361.22V779.53H362.42V784.31H363.62V782.22H364.82V778.17H366.02V769.15H367.22V764.52H368.42V763.2H369.62V773.02H370.82V778.06H372.02V774.15H373.22V767.97H374.42V768.79H375.62V772.1H376.82V776.37H378.02V778.98H379.22V778.5H380.42V779.45H381.62V774.07H382.82V775.31H384.02V774.65H385.22" fill="none" stroke="#000" stroke-width="2.2" stroke-linejoin="miter"/>
<path d="M327.8 717.5L327.5 857.8L515.5 857.7" fill="none" stroke="#000" stroke-width="2"/>
<path d="M322.3 718H327.8" stroke="#000" stroke-width="1.8"/>
<path d="M325.93 843.77H327.53" stroke="#000" stroke-width="1.6"/>
<path d="M325.96 829.74H327.56" stroke="#000" stroke-width="1.6"/>
<path d="M325.99 815.71H327.59" stroke="#000" stroke-width="1.6"/>
<path d="M326.02 801.68H327.62" stroke="#000" stroke-width="1.6"/>
<path d="M323.15 787.65H327.65" stroke="#000" stroke-width="1.6"/>
<path d="M326.08 773.62H327.68" stroke="#000" stroke-width="1.6"/>
<path d="M326.11 759.59H327.71" stroke="#000" stroke-width="1.6"/>
<path d="M326.14 745.56H327.74" stroke="#000" stroke-width="1.6"/>
<path d="M326.17 731.53H327.77" stroke="#000" stroke-width="1.6"/>
<path d="M322 857.8H327.5" stroke="#000" stroke-width="1.8"/>
<path d="M327.5 857.8V863.8" stroke="#000" stroke-width="1.8"/>
<path d="M350.08 857.79V861.79" stroke="#000" stroke-width="1.8"/>
<path d="M363.28 857.78V861.78" stroke="#000" stroke-width="1.8"/>
<path d="M372.65 857.78V861.78" stroke="#000" stroke-width="1.8"/>
<path d="M379.92 857.77V861.77" stroke="#000" stroke-width="1.8"/>
<path d="M385.86 857.77V861.77" stroke="#000" stroke-width="1.8"/>
<path d="M390.88 857.77V861.77" stroke="#000" stroke-width="1.8"/>
<path d="M395.23 857.76V861.76" stroke="#000" stroke-width="1.8"/>
<path d="M399.07 857.76V861.76" stroke="#000" stroke-width="1.8"/>
<path d="M402.5 857.76V863.76" stroke="#000" stroke-width="1.8"/>
<path d="M425.08 857.75V861.75" stroke="#000" stroke-width="1.8"/>
<path d="M438.28 857.74V861.74" stroke="#000" stroke-width="1.8"/>
<path d="M447.65 857.74V861.74" stroke="#000" stroke-width="1.8"/>
<path d="M454.92 857.73V861.73" stroke="#000" stroke-width="1.8"/>
<path d="M460.86 857.73V861.73" stroke="#000" stroke-width="1.8"/>
<path d="M465.88 857.73V861.73" stroke="#000" stroke-width="1.8"/>
<path d="M470.23 857.72V861.72" stroke="#000" stroke-width="1.8"/>
<path d="M474.07 857.72V861.72" stroke="#000" stroke-width="1.8"/>
<path d="M477.5 857.72V863.72" stroke="#000" stroke-width="1.8"/>
<path d="M500.08 857.71V861.71" stroke="#000" stroke-width="1.8"/>
<path d="M513.28 857.7V861.7" stroke="#000" stroke-width="1.8"/>
<text transform="translate(321.8 721) rotate(-90)" x="0" y="0" text-anchor="middle" class="m">100</text>
<text transform="translate(321.65 788.15) rotate(-90)" x="0" y="0" text-anchor="middle" class="m">50</text>
<text transform="translate(321.5 857.5) rotate(-90)" x="0" y="0" text-anchor="middle" class="m">0</text>
<text x="324.05" y="872.8" text-anchor="middle" class="m">10</text>
<text x="332.1" y="868.8" class="s">0</text>
<text x="399.05" y="872.76" text-anchor="middle" class="m">10</text>
<text x="407.1" y="868.76" class="s">1</text>
<text x="474.05" y="872.72" text-anchor="middle" class="m">10</text>
<text x="482.1" y="868.72" class="s">2</text>
<text x="107.38" y="43.3" class="t" textLength="110.71" lengthAdjust="spacingAndGlyphs">IL6-/R- Tg</text>
<text x="353.15" y="42.4" class="t" textLength="115.49" lengthAdjust="spacingAndGlyphs">IL6+/R- Tg</text>
<text x="105.42" y="245.4" class="t" textLength="109.95" lengthAdjust="spacingAndGlyphs">IL6-/R+Tg</text>
<text x="353.11" y="242.6" class="t" textLength="122.02" lengthAdjust="spacingAndGlyphs">IL6+/R+ Tg</text>
<text x="106.33" y="477" class="t" textLength="111.16" lengthAdjust="spacingAndGlyphs">IL6-/R- Tg</text>
<text x="354.37" y="476.8" class="t" textLength="116.16" lengthAdjust="spacingAndGlyphs">IL6+/R- Tg</text>
<text x="105.43" y="702" class="t" textLength="115.71" lengthAdjust="spacingAndGlyphs">IL6-/R+ Tg</text>
<text x="352.89" y="700.8" class="t" textLength="121.24" lengthAdjust="spacingAndGlyphs">IL6+/R+ Tg</text>
<text x="255.01" y="21.4" class="t" textLength="45.68" lengthAdjust="spacingAndGlyphs">CD4</text>
<text x="251.62" y="458.4" class="t" textLength="47.36" lengthAdjust="spacingAndGlyphs">CD8</text>
<text x="113.63" y="919.6" class="g" textLength="67.72" lengthAdjust="spacingAndGlyphs">gp130</text>
<path d="M302 7.3H314V10.3H302Z" fill="#000"/>
<path d="M306.6 3.2H309.8V14.2H306.6Z" fill="#000"/>
<path d="M300 445.5H312V448.4H300Z" fill="#000"/>
<path d="M304.5 441.5H307.8V452.8H304.5Z" fill="#000"/>
<path d="M187.5 913H397" stroke="#000" stroke-width="2.4"/>
<path d="M395.5 906.2L415.5 913.2L395.5 920.5Z" fill="#000"/>
<text transform="translate(19.4 758.6) rotate(-90)" x="0" y="0" class="t" textLength="226.6" lengthAdjust="spacingAndGlyphs">Relative cell number</text>
<path d="M12.2 151V500.4" stroke="#000" stroke-width="2.6"/>
<path d="M5.3 153L12.5 133.3L19.9 153Z" fill="#000"/>
</g>
</svg>
</body></html>
